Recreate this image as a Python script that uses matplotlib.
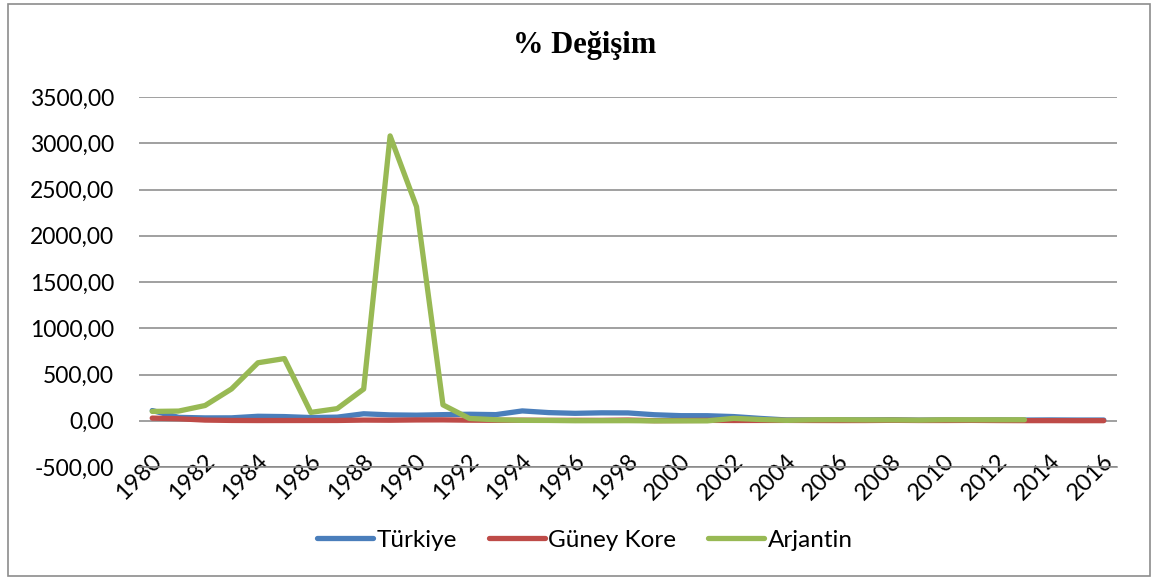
import numpy as np
import matplotlib
matplotlib.use("Agg")
import matplotlib.pyplot as plt
from matplotlib.transforms import ScaledTranslation
from matplotlib.patches import Rectangle
from matplotlib.ticker import FuncFormatter

# yearly % change (inflation) per country
years = list(range(1980, 2017))
turkiye = [110.2, 36.6, 30.8, 31.4, 48.4, 45.0, 34.6, 38.9, 75.4, 63.3,
           60.3, 66.0, 70.1, 66.1, 106.3, 88.1, 80.3, 85.7, 84.6, 64.9,
           54.9, 54.4, 45.0, 25.3, 8.6, 8.2, 9.6, 8.8, 10.4, 6.3,
           8.6, 6.5, 8.9, 7.5, 8.9, 7.7, 7.8]
guney_kore = [28.7, 21.4, 7.2, 3.4, 2.3, 2.5, 2.8, 3.0, 7.1, 5.7,
              8.6, 9.3, 6.2, 4.8, 6.3, 4.5, 4.9, 4.4, 7.5, 0.8,
              2.3, 4.1, 2.8, 3.5, 3.6, 2.8, 2.2, 2.5, 4.7, 2.8,
              2.9, 4.0, 2.2, 1.3, 1.3, 0.7, 1.0]
arjantin_years = list(range(1980, 2014))
arjantin = [100.8, 104.5, 164.8, 343.8, 626.7, 672.2, 90.1, 131.3, 343.0, 3079.5,
            2314.0, 171.7, 24.9, 10.6, 4.2, 3.4, 0.2, 0.5, 0.9, -1.2,
            -0.9, -1.1, 25.9, 13.4, 4.4, 9.6, 10.9, 8.8, 8.6, 6.3,
            10.5, 9.8, 10.0, 10.6]

plt.rcParams['font.family'] = ['Lato', 'DejaVu Sans']

fig = plt.figure(figsize=(11.55, 5.78), dpi=100)
ax = fig.add_axes([139 / 1155, 1 - 467 / 578, (1117 - 139) / 1155, (467 - 97) / 578])

lw = 3.8
ax.plot(years, turkiye, color='#4A7EBB', lw=lw, solid_capstyle='round', label='Türkiye', zorder=3)
ax.plot(years, guney_kore, color='#BE4B48', lw=lw, solid_capstyle='round', label='Güney Kore', zorder=4)
ax.plot(arjantin_years, arjantin, color='#98B954', lw=lw, solid_capstyle='round', label='Arjantin', zorder=5)

ax.set_xlim(1979.5, 2016.5)
ax.set_ylim(-500, 3500)
ax.set_yticks(np.arange(-500, 3501, 500))
ax.yaxis.set_major_formatter(FuncFormatter(lambda v, p: f"{v:.2f}".replace('.', ',')))
ax.grid(axis='y', color='#868686', lw=1.1)
ax.set_axisbelow(True)
for s in ['top', 'right', 'left']:
    ax.spines[s].set_visible(False)
ax.spines['bottom'].set_color('#868686')
ax.spines['bottom'].set_linewidth(1.1)
ax.tick_params(axis='y', length=0, pad=18, labelsize=16.5)
ax.tick_params(axis='x', length=0, labelsize=17)

ax.set_xticks(years[::2])
ax.set_xticklabels([str(y) for y in years[::2]], rotation=45, ha='right', va='center',
                   rotation_mode='anchor')
shift = ScaledTranslation(6 / 100, 14 / 100, fig.dpi_scale_trans)
for lab in ax.get_xticklabels():
    lab.set_transform(lab.get_transform() + shift)

fig.text(585 / 1155, 1 - 46 / 578, '% Değişim', ha='center', va='center', fontsize=22,
         fontweight='bold', family='Liberation Serif')

fig.legend(loc='center', bbox_to_anchor=(585 / 1155, 1 - 540 / 578), ncol=3, frameon=False,
           fontsize=17.5, handlelength=2.3, handletextpad=0.15, columnspacing=1.3)

fig.patches.append(Rectangle((8 / 1155, 2 / 578), 1142 / 1155, 572 / 578, transform=fig.transFigure,
                             fill=False, edgecolor='#8C8C8C', lw=1.2))

fig.savefig('out.png', dpi=100)
